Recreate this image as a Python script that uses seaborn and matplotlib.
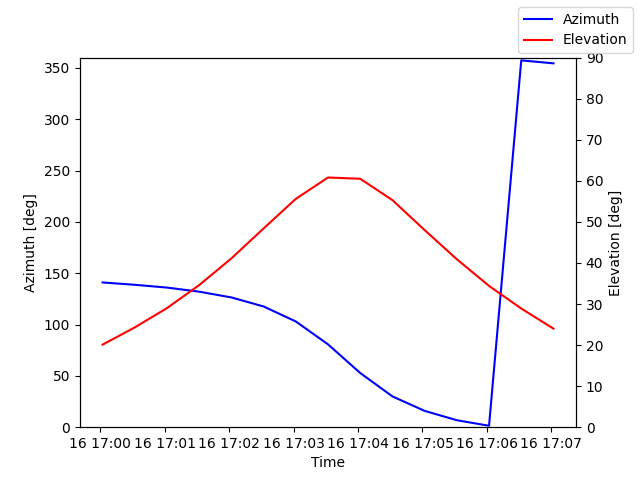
import pandas as pd
import numpy as np
import matplotlib
matplotlib.use('Agg')
import matplotlib.pyplot as plt
import seaborn as sns

# -----------------------------
#   Dados
# -----------------------------
times = pd.date_range('2024-01-16 17:00:02', '2024-01-16 17:07:02', freq='30s')
azimuth = [141.0, 138.7, 136.0, 132.0, 126.4, 117.6, 103.0, 80.7,
           52.8, 30.0, 15.9, 6.8, 1.4, 357.3, 354.4]
elevation = [20.1, 24.3, 29.0, 34.6, 41.1, 48.4, 55.6, 60.8,
             60.5, 55.3, 48.0, 40.9, 34.4, 28.9, 24.0]

df = pd.DataFrame({'Time': times, 'Azimuth': azimuth, 'Elevation': elevation})

fig, ax = plt.subplots(figsize=(6.4, 4.8), dpi=100)
sns.lineplot(data=df, x='Time', y='Azimuth', color='blue', label='Azimuth',
             legend=False, ax=ax)
ax.set_ylim(0, 360)
ax.set_xlabel('Time')
ax.set_ylabel('Azimuth [deg]')

ax2 = ax.twinx()
sns.lineplot(data=df, x='Time', y='Elevation', color='red', label='Elevation',
             legend=False, ax=ax2)
ax2.set_ylim(0, 90)
ax2.set_ylabel('Elevation [deg]')

fig.legend()
fig.savefig('out.png')
